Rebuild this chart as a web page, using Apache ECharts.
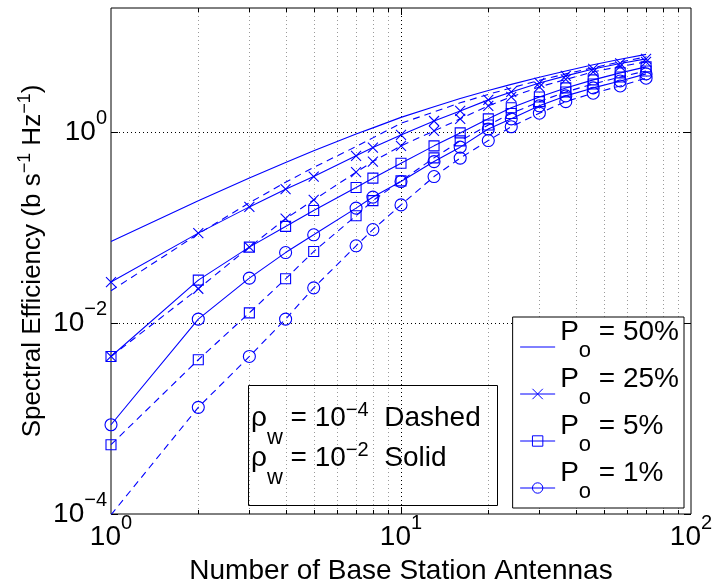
<!DOCTYPE html>
<html>
<head>
<meta charset="utf-8">
<script src="https://cdn.jsdelivr.net/npm/echarts@6/dist/echarts.min.js"></script>
<style>
  html, body { margin: 0; padding: 0; background: #fff; }
  #chart { width: 712px; height: 586px; }
</style>
</head>
<body>
<div id="chart"></div>
<script>
// number of base station antennas (x) and spectral efficiency per curve
var antennas = [1, 2, 3, 4, 5, 7, 8, 10, 13, 16, 20, 24, 30, 37, 46, 57, 70];

// solid = rho_w 1e-2, dashed = rho_w 1e-4
var solid50  = [0.0715, 0.191, 0.331, 0.481, 0.638, 0.955, 1.11, 1.43, 1.85, 2.25, 2.73, 3.17, 3.77, 4.38, 5.08, 5.81, 6.53];
var dashed50 = [0.0218, 0.0861, 0.182, 0.299, 0.428, 0.707, 0.872, 1.24, 1.63, 2.03, 2.49, 2.91, 3.49, 4.08, 4.74, 5.45, 6.14];
var solid25  = [0.0269, 0.0876, 0.165, 0.253, 0.343, 0.565, 0.690, 0.937, 1.31, 1.67, 2.18, 2.64, 3.28, 3.89, 4.60, 5.25, 5.86];
var dashed25 = [0.00447, 0.0229, 0.0625, 0.124, 0.195, 0.381, 0.492, 0.719, 1.03, 1.38, 1.89, 2.34, 2.98, 3.57, 4.28, 4.89, 5.45];
var solid5   = [0.00447, 0.0282, 0.0625, 0.103, 0.151, 0.263, 0.330, 0.473, 0.719, 0.983, 1.38, 1.80, 2.34, 2.91, 3.53, 4.18, 4.83];
var dashed5  = [0.000532, 0.00413, 0.0128, 0.0291, 0.0562, 0.133, 0.192, 0.309, 0.538, 0.811, 1.19, 1.57, 2.09, 2.64, 3.20, 3.79, 4.38];
var solid1   = [0.000861, 0.0110, 0.0296, 0.0548, 0.0841, 0.160, 0.209, 0.304, 0.492, 0.697, 1.08, 1.38, 1.89, 2.40, 2.91, 3.44, 4.08];
var dashed1  = [0.000098, 0.00131, 0.00447, 0.0110, 0.0234, 0.0645, 0.0955, 0.173, 0.343, 0.535, 0.817, 1.14, 1.58, 2.09, 2.56, 3.05, 3.68];

var legendNames = ['50%', '25%', '5%', '1%'];

// grid lines / ticks
var minorX = [2, 3, 4, 5, 6, 7, 8, 9, 20, 30, 40, 50, 60, 70, 80, 90];
var majorX = [10];
var gridY = [0.01, 1];
var tickY = [0.0001];

var BLUE = '#0000ff';
var FONT = "'Liberation Sans', Arial, Helvetica, sans-serif";
var CROSS = 'path://M0,0L10,10M10,0L0,10';

var chart = echarts.init(document.getElementById('chart'));

function expLabel(v, evenOnly) {
  var e = Math.log10(v), r = Math.round(e);
  if (Math.abs(e - r) > 1e-6) return '';
  if (evenOnly && r % 2 !== 0) return '';
  return '{b|10}{s|' + (r < 0 ? '\u2212' + (-r) : r) + '}';
}

var tickRich = {
  b: {fontSize: 28, lineHeight: 28, fontFamily: FONT, color: '#000'},
  s: {fontSize: 20, lineHeight: 20, fontFamily: FONT, color: '#000', padding: [0, 0, 28, 0]}
};

function lineSeries(name, values, symbol, size, dashed) {
  return {
    name: name,
    type: 'line',
    data: antennas.map(function (n, i) { return [n, values[i]]; }),
    symbol: symbol,
    symbolSize: size,
    showSymbol: symbol !== 'none',
    lineStyle: {color: BLUE, width: 1.1, type: dashed ? [7, 5] : 'solid'},
    itemStyle: {
      color: 'rgba(0,0,0,0)',
      borderColor: symbol === 'none' ? 'rgba(0,0,0,0)' : BLUE,
      borderWidth: 1.1
    },
    emphasis: {disabled: true},
    z: 3
  };
}

function crisp(v) { return Math.round(v) + 0.5; }

function renderXGrid(params, api) {
  var cs = params.coordSys;
  var px = crisp(api.coord([api.value(0), 1])[0]);
  var major = api.value(2);
  var top = cs.y, bottom = cs.y + cs.height;
  var len = major ? 7 : 4;
  return {
    type: 'group',
    children: [
      {type: 'line', shape: {x1: px, y1: top, x2: px, y2: bottom},
        style: {stroke: major ? '#000' : '#9a9a9a', lineWidth: 1, lineDash: [1, 3]}},
      {type: 'line', shape: {x1: px, y1: bottom, x2: px, y2: bottom - len}, style: {stroke: '#000', lineWidth: 1}},
      {type: 'line', shape: {x1: px, y1: top, x2: px, y2: top + len}, style: {stroke: '#000', lineWidth: 1}}
    ]
  };
}

function renderYGrid(params, api) {
  var cs = params.coordSys;
  var py = crisp(api.coord([1, api.value(1)])[1]);
  var left = cs.x, right = cs.x + cs.width;
  var kids = [
    {type: 'line', shape: {x1: left, y1: py, x2: left + 7, y2: py}, style: {stroke: '#000', lineWidth: 1}},
    {type: 'line', shape: {x1: right, y1: py, x2: right - 7, y2: py}, style: {stroke: '#000', lineWidth: 1}}
  ];
  if (api.value(2)) {
    kids.unshift({type: 'line', shape: {x1: left, y1: py, x2: right, y2: py},
      style: {stroke: '#000', lineWidth: 1, lineDash: [1, 3]}});
  }
  return {type: 'group', children: kids};
}

var boxRich = {
  b: {fontSize: 28, lineHeight: 28, fontFamily: FONT, color: '#000'},
  sup: {fontSize: 20, lineHeight: 20, fontFamily: FONT, color: '#000', padding: [0, 0, 16, 0]},
  sub: {fontSize: 22, lineHeight: 22, fontFamily: FONT, color: '#000', padding: [40, 0, 0, 0]}
};

var option = {
  animation: false,
  backgroundColor: '#fff',
  grid: {
    left: 111, right: 21, top: 8, bottom: 72,
    show: true, borderColor: '#000', borderWidth: 1,
    outerBoundsMode: 'none'
  },
  xAxis: {
    type: 'log', logBase: 10, min: 1, max: 100,
    axisLine: {show: false}, axisTick: {show: false}, splitLine: {show: false},
    axisLabel: {margin: 9, formatter: function (v) { return expLabel(v, false); }, rich: tickRich},
    name: 'Number of Base Station Antennas',
    nameLocation: 'middle', nameGap: 57, nameMoveOverlap: false,
    nameTextStyle: {fontSize: 28, fontFamily: FONT, color: '#000', verticalAlign: 'middle'}
  },
  yAxis: {
    type: 'log', logBase: 10, min: 0.0001, max: 20,
    axisLine: {show: false}, axisTick: {show: false}, splitLine: {show: false},
    axisLabel: {margin: 4, formatter: function (v) { return expLabel(v, true); }, rich: tickRich},
    name: '{b|Spectral Efficiency (b s}{s|\u22121}{b| Hz}{s|\u22121}{b|)}',
    nameLocation: 'middle', nameGap: 78, nameRotate: 90, nameMoveOverlap: false,
    nameTextStyle: {
      verticalAlign: 'middle', align: 'center',
      rich: {
        b: {fontSize: 26, lineHeight: 26, fontFamily: FONT, color: '#000'},
        s: {fontSize: 18, lineHeight: 18, fontFamily: FONT, color: '#000', padding: [0, 0, 16, 0]}
      }
    }
  },
  legend: {
    data: legendNames,
    orient: 'vertical',
    right: 28, top: 317,
    padding: [1, 5, -9, 7],
    itemGap: -11,
    itemWidth: 35, itemHeight: 13,
    selectedMode: false,
    backgroundColor: '#fff', borderColor: '#000', borderWidth: 1, borderRadius: 0,
    itemStyle: {borderWidth: 1},
    lineStyle: {width: 1},
    formatter: function (name) { return '{b|P}{o|o}{b| = ' + name + '}'; },
    textStyle: {
      color: '#000',
      rich: {
        b: {fontSize: 28, lineHeight: 28, fontFamily: FONT, color: '#000', padding: [0, 0, 30, 0]},
        o: {fontSize: 22, lineHeight: 22, fontFamily: FONT, color: '#000', padding: [8, 0, 0, 0]}
      }
    },
    z: 10
  },
  graphic: [
    {type: 'rect', z: 5, shape: {x: 248.5, y: 385.5, width: 249, height: 120},
      style: {fill: null, stroke: '#000', lineWidth: 1}},
    {type: 'text', z: 5, x: 251, y: 418,
      style: {text: '{b|\u03c1}{sub|w}{b| = 10}{sup|\u22124}{b|  Dashed}', rich: boxRich, verticalAlign: 'middle', align: 'left'}},
    {type: 'text', z: 5, x: 251, y: 458,
      style: {text: '{b|\u03c1}{sub|w}{b| = 10}{sup|\u22122}{b|  Solid}', rich: boxRich, verticalAlign: 'middle', align: 'left'}}
  ],
  series: [
    {
      type: 'custom', silent: true, z: 1,
      dimensions: ['x', 'y', 'major'], encode: {x: 0, y: 1},
      data: minorX.map(function (v) { return [v, 1, 0]; }).concat(majorX.map(function (v) { return [v, 1, 1]; })),
      renderItem: renderXGrid
    },
    {
      type: 'custom', silent: true, z: 1,
      dimensions: ['x', 'y', 'major'], encode: {x: 0, y: 1},
      data: gridY.map(function (v) { return [1, v, 1]; }).concat(tickY.map(function (v) { return [1, v, 0]; })),
      renderItem: renderYGrid
    },
    lineSeries('50%', solid50, 'none', 0, false),
    lineSeries('25%', solid25, CROSS, 10, false),
    lineSeries('5%', solid5, 'rect', 10, false),
    lineSeries('1%', solid1, 'circle', 12, false),
    lineSeries('50% dashed', dashed50, 'none', 0, true),
    lineSeries('25% dashed', dashed25, CROSS, 10, true),
    lineSeries('5% dashed', dashed5, 'rect', 10, true),
    lineSeries('1% dashed', dashed1, 'circle', 12, true)
  ]
};

chart.setOption(option);
</script>
</body>
</html>
